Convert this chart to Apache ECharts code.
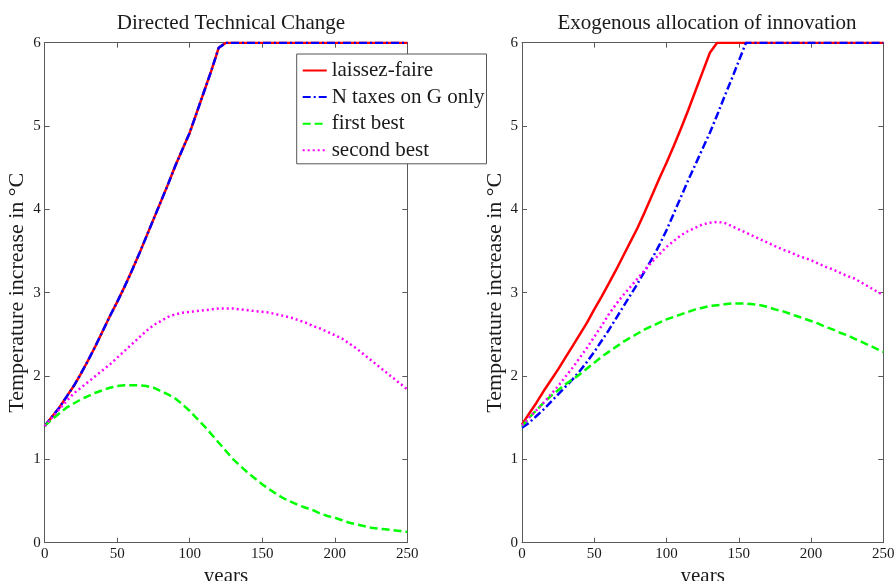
<!DOCTYPE html>
<html>
<head>
<meta charset="utf-8">
<script src="https://cdn.jsdelivr.net/npm/echarts@6/dist/echarts.min.js"></script>
<style>html,body{margin:0;padding:0;background:#fff}#c{width:896px;height:581px}</style>
</head>
<body>
<div id="c"></div>
<script>
var years = [0,5,10,15,20,25,30,35,40,45,50,55,60,65,70,75,80,85,90,95,100,105,110,115,120,125,130,135,140,145,150,155,160,165,170,175,180,185,190,195,200,205,210,215,220,225,230,235,240,245,250];
var xTicks = [0,50,100,150,200,250];
var yTicks = [0,1,2,3,4,5,6];
var seriesNames = ['laissez-faire','N taxes on G only','first best','second best'];
var panelTitles = ['Directed Technical Change','Exogenous allocation of innovation'];

// Left panel: Directed Technical Change
var dtcLaissezFaire = [1.40,1.51,1.62,1.75,1.88,2.03,2.19,2.36,2.54,2.72,2.89,3.07,3.26,3.46,3.67,3.88,4.09,4.30,4.52,4.72,4.92,5.17,5.42,5.67,5.94,6,6,6,6,6,6,6,6,6,6,6,6,6,6,6,6,6,6,6,6,6,6,6,6,6,6];
var dtcNTaxes = [1.40,1.51,1.62,1.75,1.88,2.03,2.19,2.36,2.54,2.72,2.89,3.07,3.26,3.46,3.67,3.88,4.09,4.30,4.52,4.72,4.92,5.17,5.42,5.67,5.94,6,6,6,6,6,6,6,6,6,6,6,6,6,6,6,6,6,6,6,6,6,6,6,6,6,6];
var dtcFirstBest = [1.40,1.48,1.55,1.62,1.67,1.72,1.76,1.80,1.83,1.86,1.88,1.89,1.89,1.89,1.88,1.86,1.82,1.78,1.73,1.66,1.58,1.49,1.40,1.30,1.20,1.10,1.00,0.92,0.84,0.77,0.70,0.64,0.58,0.53,0.49,0.45,0.42,0.39,0.35,0.32,0.30,0.27,0.24,0.22,0.20,0.18,0.17,0.16,0.15,0.14,0.13];
var dtcSecondBest = [1.40,1.50,1.60,1.70,1.79,1.86,1.93,2.00,2.07,2.14,2.22,2.30,2.38,2.46,2.54,2.61,2.66,2.71,2.74,2.76,2.77,2.78,2.79,2.80,2.81,2.81,2.81,2.80,2.79,2.78,2.77,2.76,2.74,2.72,2.70,2.67,2.64,2.60,2.57,2.53,2.49,2.45,2.39,2.33,2.26,2.19,2.12,2.05,1.98,1.91,1.84];

// Right panel: Exogenous allocation of innovation
var exoLaissezFaire = [1.42,1.55,1.68,1.82,1.95,2.08,2.22,2.36,2.50,2.64,2.80,2.95,3.11,3.27,3.44,3.61,3.78,3.97,4.17,4.37,4.56,4.76,4.97,5.19,5.42,5.65,5.88,6,6,6,6,6,6,6,6,6,6,6,6,6,6,6,6,6,6,6,6,6,6,6,6];
var exoNTaxes = [1.38,1.44,1.52,1.60,1.69,1.78,1.87,1.96,2.06,2.17,2.29,2.42,2.55,2.69,2.83,2.97,3.11,3.26,3.41,3.57,3.75,3.95,4.15,4.35,4.54,4.73,4.92,5.13,5.35,5.56,5.78,6,6,6,6,6,6,6,6,6,6,6,6,6,6,6,6,6,6,6,6];
var exoFirstBest = [1.40,1.50,1.59,1.68,1.76,1.83,1.90,1.96,2.02,2.09,2.16,2.23,2.29,2.35,2.41,2.46,2.51,2.56,2.60,2.64,2.68,2.71,2.74,2.77,2.80,2.82,2.84,2.85,2.86,2.87,2.87,2.87,2.86,2.85,2.83,2.80,2.78,2.75,2.72,2.69,2.66,2.63,2.59,2.56,2.52,2.49,2.45,2.41,2.37,2.33,2.29];
var exoSecondBest = [1.41,1.50,1.59,1.68,1.78,1.88,1.99,2.10,2.22,2.34,2.47,2.60,2.74,2.86,2.97,3.07,3.17,3.27,3.37,3.46,3.55,3.62,3.69,3.74,3.78,3.82,3.84,3.85,3.84,3.80,3.76,3.72,3.68,3.64,3.60,3.56,3.52,3.49,3.45,3.42,3.39,3.35,3.31,3.28,3.24,3.20,3.17,3.12,3.07,3.02,2.97];

function pairs(vals){ return years.map(function(y,i){ return [y, vals[i]]; }); }

var FONT = 'Liberation Serif';
var AXC = '#5a5a5a';
var TXT = '#1a1a1a';
var styles = [
  {color:'#ff0000', type:'solid'},
  {color:'#0000ff', type:[8,3,2,3]},
  {color:'#00ff00', type:[8,4]},
  {color:'#ff00ff', type:[2,3]}
];

function xAx(grid, pos){
  var bottom = pos === 'bottom';
  return {
    type:'value', gridIndex:grid, position:pos, min:0, max:250, interval:50,
    axisLine:{show:true, onZero:false, lineStyle:{color:AXC, width:1}},
    axisTick:{show:true, inside:true, length:5, lineStyle:{color:AXC}},
    axisLabel:{show:bottom, color:TXT, fontFamily:FONT, fontSize:15, margin:4},
    splitLine:{show:false},
    name: bottom ? 'years' : '', nameLocation:'middle', nameGap:23,
    nameMoveOverlap:false,
    nameTextStyle:{color:TXT, fontFamily:FONT, fontSize:21}
  };
}
function yAx(grid, pos){
  var left = pos === 'left';
  return {
    type:'value', gridIndex:grid, position:pos, min:0, max:6, interval:1,
    axisLine:{show:true, onZero:false, lineStyle:{color:AXC, width:1}},
    axisTick:{show:true, inside:true, length:5, lineStyle:{color:AXC}},
    axisLabel:{show:left, color:TXT, fontFamily:FONT, fontSize:15, margin:4},
    splitLine:{show:false},
    name: left ? 'Temperature increase in \u00B0C' : '', nameLocation:'middle', nameGap:16,
    nameRotate:90, nameMoveOverlap:false,
    nameTextStyle:{color:TXT, fontFamily:FONT, fontSize:22}
  };
}

var panels = [
  [dtcLaissezFaire, dtcNTaxes, dtcFirstBest, dtcSecondBest],
  [exoLaissezFaire, exoNTaxes, exoFirstBest, exoSecondBest]
];
var series = [];
panels.forEach(function(p, gi){
  p.forEach(function(vals, si){
    series.push({
      name: seriesNames[si], type:'line', xAxisIndex: gi*2, yAxisIndex: gi*2,
      data: pairs(vals), showSymbol:false, symbol:'none', smooth:false,
      lineStyle:{color:styles[si].color, type:styles[si].type, width:2.5},
      itemStyle:{color:styles[si].color},
      z: 2 + si, animation:false, clip:true
    });
  });
});

var chart = echarts.init(document.getElementById('c'), null, {renderer:'canvas'});
chart.setOption({
  animation:false,
  backgroundColor:'#ffffff',
  title:[
    {text:panelTitles[0], left:226, top:8, textAlign:'center', textStyle:{fontFamily:FONT, fontSize:21, fontWeight:'normal', color:TXT}},
    {text:panelTitles[1], left:702, top:8, textAlign:'center', textStyle:{fontFamily:FONT, fontSize:21, fontWeight:'normal', color:TXT}}
  ],
  grid:[
    {left:44.7, top:42.7, width:362.6, height:500, containLabel:false, outerBoundsMode:'none'},
    {left:522, top:42.7, width:361.3, height:500, containLabel:false, outerBoundsMode:'none'}
  ],
  xAxis:[xAx(0,'bottom'), xAx(0,'top'), xAx(1,'bottom'), xAx(1,'top')],
  yAxis:[yAx(0,'left'), yAx(0,'right'), yAx(1,'left'), yAx(1,'right')],
  legend:{
    orient:'vertical', left:296.7, top:54, data:seriesNames,
    backgroundColor:'#ffffff', borderColor:'#555', borderWidth:1,
    padding:[6,2,3,5], itemWidth:24, itemHeight:14, itemGap:5.6,
    itemStyle:{opacity:0, borderWidth:0},
    textStyle:{fontFamily:FONT, fontSize:21, color:TXT, lineHeight:21},
    itemTextGap:4
  },
  series: series
});
</script>
</body>
</html>
